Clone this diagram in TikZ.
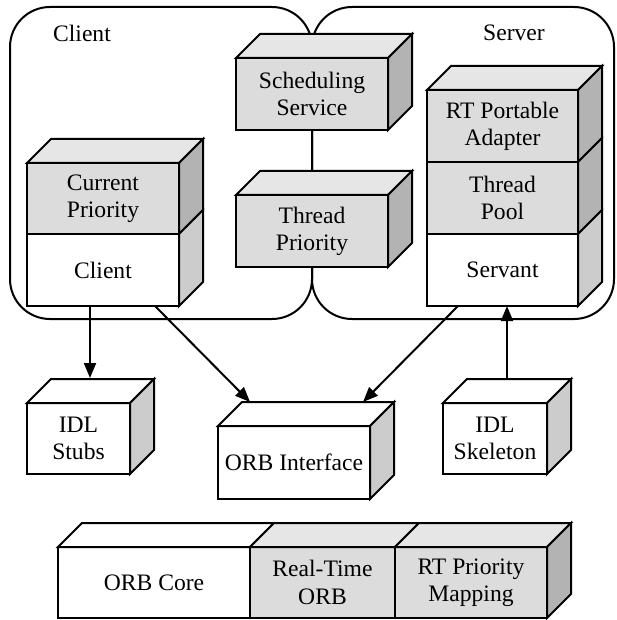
\documentclass[tikz,border=0pt]{standalone}
\usepackage{fontspec}
\setmainfont{Liberation Serif}
\usetikzlibrary{arrows.meta,calc}
\definecolor{gfront}{HTML}{DCDCDC}
\definecolor{gtop}{HTML}{E6E6E6}
\definecolor{gside}{HTML}{B3B3B3}
\definecolor{wside}{HTML}{CCCCCC}
\tikzset{
  face/.style={draw, line width=1pt, outer sep=0pt, inner sep=0pt, align=center,
    font=\fontsize{11.8}{13.6}\selectfont},
  facepath/.style={draw, line width=1pt, line join=miter},
  region/.style={draw, line width=1pt, rounded corners=20pt},
  conn/.style={line width=1pt},
  arr/.style={conn, -{Triangle[length=7.5pt,width=6pt]}},
  lbl/.style={font=\fontsize{11.8}{13.6}\selectfont, inner sep=0pt}
}
% front face: name, x1, y1, x2, y2, fill, text
\newcommand\frontface[7]{%
  \node[face, fill=#6, minimum width={(#4-#2)*0.5pt}, minimum height={(#5-#3)*0.5pt}]
    (#1) at ({(#2+#4)/2},{(#3+#5)/2}) {#7};}
\newcommand\topface[2]{%
  \filldraw[facepath, fill=#2] (#1.north west) -- ++(24,-24) -- ($(#1.north east)+(24,-24)$) -- (#1.north east) -- cycle;}
\newcommand\sideface[2]{%
  \filldraw[facepath, fill=#2] (#1.north east) -- ++(24,-24) -- ($(#1.south east)+(24,-24)$) -- (#1.south east) -- cycle;}
\begin{document}
\begin{tikzpicture}[x=0.5pt,y=-0.5pt]
\useasboundingbox[fill=white] (0,0) rectangle (616,620);
% regions
\draw[region] (10,7) rectangle (312,319);
\draw[region] (312,7) rectangle (614,319);
\node[lbl] (clientlbl) at (82,33) {Client};
\node[lbl] (serverlbl) at (514,33) {Server};
% client stack
\frontface{curprio}{27}{163}{179}{234}{gfront}{Current\\Priority}
\frontface{client}{27}{234}{179}{306}{white}{Client}
\topface{curprio}{gtop}
\sideface{curprio}{gside}
\sideface{client}{wside}
% scheduling service and thread priority
\frontface{sched}{236}{58}{388}{130}{gfront}{Scheduling\\Service}
\topface{sched}{gtop}
\sideface{sched}{gside}
\frontface{tprio}{236}{195}{388}{267}{gfront}{Thread\\Priority}
\topface{tprio}{gtop}
\sideface{tprio}{gside}
\coordinate (tprioTop) at ($(tprio.north)+(0,-25)$);
\draw[conn] (sched.south) -- (tprioTop);
% server stack
\frontface{rtpa}{427}{90}{578}{162}{gfront}{RT Portable\\Adapter}
\frontface{tpool}{427}{162}{578}{234}{gfront}{Thread\\Pool}
\frontface{servant}{427}{234}{578}{306}{white}{Servant}
\topface{rtpa}{gtop}
\sideface{rtpa}{gside}
\sideface{tpool}{gside}
\sideface{servant}{wside}
% middle row
\frontface{stubs}{27}{403}{130}{474}{white}{IDL\\Stubs}
\topface{stubs}{white}
\sideface{stubs}{wside}
\frontface{orbif}{218}{426}{370}{499}{white}{ORB Interface}
\topface{orbif}{white}
\sideface{orbif}{wside}
\frontface{skel}{443}{403}{547}{474}{white}{IDL\\Skeleton}
\topface{skel}{white}
\sideface{skel}{wside}
% bottom row
\frontface{orbcore}{58}{547}{250}{618}{white}{ORB Core}
\frontface{rtorb}{250}{547}{395}{618}{gfront}{Real-Time\\ORB}
\frontface{rtmap}{395}{547}{547}{618}{gfront}{RT Priority\\Mapping}
\topface{orbcore}{white}
\topface{rtorb}{gtop}
\topface{rtmap}{gtop}
\sideface{rtmap}{gside}
% connectors
\coordinate (c1) at ($(client.south west)+(63,0)$);
\coordinate (s1) at ($(stubs.north west)+(63,-25)$);
\draw[arr] (c1) -- (s1);
\coordinate (c2) at ($(client.south west)+(128,0)$);
\coordinate (o1) at ($(orbif.north west)+(32,-24)$);
\draw[arr] (c2) -- (o1);
\coordinate (v1) at ($(servant.south west)+(31,0)$);
\coordinate (o2) at ($(orbif.north west)+(145,-24)$);
\draw[arr] (v1) -- (o2);
\coordinate (k1) at ($(skel.north west)+(64,-25)$);
\coordinate (v2) at ($(servant.south west)+(80,0)$);
\draw[arr] (k1) -- (v2);
\end{tikzpicture}
\end{document}
